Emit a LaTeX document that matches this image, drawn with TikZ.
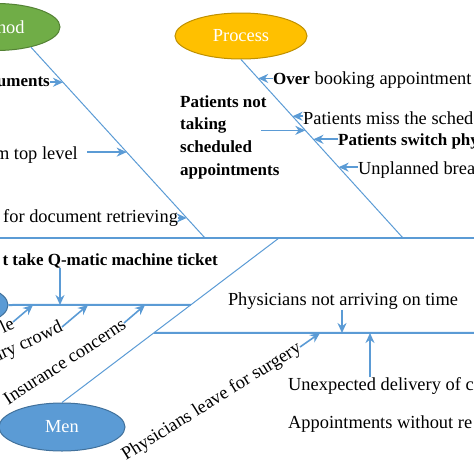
\documentclass[tikz,border=0pt]{standalone}
\usepackage{fontspec}
\setmainfont{Liberation Serif}
\usetikzlibrary{positioning, calc, arrows.meta, shapes.geometric}

\definecolor{fishblue}{RGB}{91,155,213}
\definecolor{menedge}{RGB}{65,113,156}
\definecolor{methodgreen}{RGB}{112,173,71}
\definecolor{methodedge}{RGB}{84,130,53}
\definecolor{processgold}{RGB}{255,192,0}
\definecolor{processedge}{RGB}{191,144,0}

\tikzset{
  cat/.style={ellipse, line width=1pt, text=white, inner sep=0pt},
  cause/.style={inner sep=0pt, text=black},
  bcause/.style={cause, font=\fontsize{17}{22.7}\selectfont\bfseries},
  spine/.style={fishblue, line width=2.6pt},
  sub/.style={fishblue, line width=2pt},
  bone/.style={fishblue, line width=1pt},
  arr/.style={-{Stealth[length=10pt,width=9pt]}, fishblue, line width=1.6pt}
}

\begin{document}
\begin{tikzpicture}[x=1pt, y=-1pt, font=\fontsize{18.4}{22.7}\selectfont]
    \useasboundingbox (0,0) rectangle (474,474);
    \clip (0,0) rectangle (474,474);

    % Categories
    \node[cat, fill=methodgreen, draw=methodedge, minimum width=128pt, minimum height=47pt] (method) at (-4,27) {Method};
    \node[cat, fill=processgold, draw=processedge, minimum width=132pt, minimum height=46pt] (process) at (241,36) {Process};
    \node[cat, fill=fishblue, draw=menedge, minimum width=126pt, minimum height=48pt] (men) at (62,427) {Men};
    \node[cat, fill=fishblue, draw=menedge, minimum width=126pt, minimum height=48pt] (other) at (-55,305) {};

    % Spine and bones
    \coordinate (spineL) at (-5,238);
    \coordinate (spineR) at (480,238);
    \coordinate (mb) at (205,238);
    \coordinate (pb) at (403,238);
    \coordinate (nb) at (279,238);
    \draw[spine] (spineL) -- (spineR);
    \draw[bone] (method.-30) -- (mb);
    \draw[bone] (process.south) -- (pb);
    \draw[bone] (men.north) -- (nb);
    \coordinate (s2) at ($(men.north)!0.594!(nb)$);
    \coordinate (s3) at ($(men.north)!0.424!(nb)$);
    \coordinate (e3) at (480,333);
    \draw[sub] (other.east) -- (s2);
    \draw[sub] (s3) -- (e3);

    % Method causes
    \node[bcause, anchor=east] (docs) at (50,82) {uments};
    \node[cause, anchor=east] (toplevel) at (78,155) {m top level};
    \node[cause, anchor=west] (retrieve) at (3,218) {for document retrieving};
    \coordinate (m1) at ($(method.-30)!0.184!(mb)$);
    \coordinate (m2) at ($(method.-30)!0.550!(mb)$);
    \coordinate (m3) at ($(method.-30)!0.895!(mb)$);
    \draw[arr] (docs.east |- m1) -- (m1);
    \draw[arr] ($(toplevel.east |- m2)+(9,0)$) -- (m2);
    \draw[arr] (retrieve.east |- m3) -- (m3);

    % Process causes
    \node[cause, anchor=west] (overbook) at (273,80) {\textbf{\fontsize{17}{22.7}\selectfont Over} booking appointment};
    \node[cause, anchor=west] (miss) at (303,118) {Patients miss the sched};
    \node[bcause, anchor=west] (switch) at (338,141) {Patients switch phy};
    \node[cause, anchor=west] (unplan) at (358,170) {Unplanned brea};
    \node[bcause, anchor=west, align=left] (nottaking) at (180,137) {Patients not\\taking\\scheduled\\appointments};
    \coordinate (p1) at ($(process.south)!0.106!(pb)$);
    \coordinate (p2) at ($(process.south)!0.318!(pb)$);
    \coordinate (p3) at ($(process.south)!0.397!(pb)$);
    \coordinate (p4) at ($(process.south)!0.447!(pb)$);
    \coordinate (p5) at ($(process.south)!0.603!(pb)$);
    \draw[arr] (overbook.west |- p1) -- (p1);
    \draw[arr] (miss.west |- p2) -- (p2);
    \draw[arr] ($(p3)+(-44,0)$) -- (p3);
    \draw[arr] (switch.west |- p4) -- (p4);
    \draw[arr] (unplan.west |- p5) -- (p5);

    % Men causes
    \node[bcause, anchor=east] (qmatic) at (218,261) {t take Q-matic machine ticket};
    \node[cause, anchor=east, rotate=25] (queue) at (13,322) {le};
    \node[cause, anchor=east, rotate=25] (crowd) at (62,327) {ary crowd};
    \node[cause, anchor=east, rotate=33] (insure) at (124,323) {Insurance concerns};
    \node[cause, anchor=east, rotate=32] (surgery) at (300,347) {Physicians leave for surgery};
    \node[cause] (notarrive) at (343,301) {Physicians not arriving on time};
    \node[cause, anchor=west] (unexpected) at (288,386) {Unexpected delivery of c};
    \node[cause, anchor=west] (norecord) at (288,424) {Appointments without re};
    \coordinate (l0) at (60,305);
    \coordinate (l1) at (33,305);
    \coordinate (l2) at (88,305);
    \coordinate (l3) at (145,305);
    \coordinate (l4) at (320,333);
    \coordinate (l5) at (342,333);
    \coordinate (l6) at (370,333);
    \draw[arr] (l0 |- qmatic.south) -- (l0);
    \draw[arr] (queue.east) -- (l1);
    \draw[arr] (crowd.east) -- (l2);
    \draw[arr] (insure.east) -- (l3);
    \draw[arr] (surgery.east) -- (l4);
    \draw[arr] (notarrive.south -| l5) -- (l5);
    \draw[arr] (unexpected.north -| l6) -- (l6);
\end{tikzpicture}
\end{document}
